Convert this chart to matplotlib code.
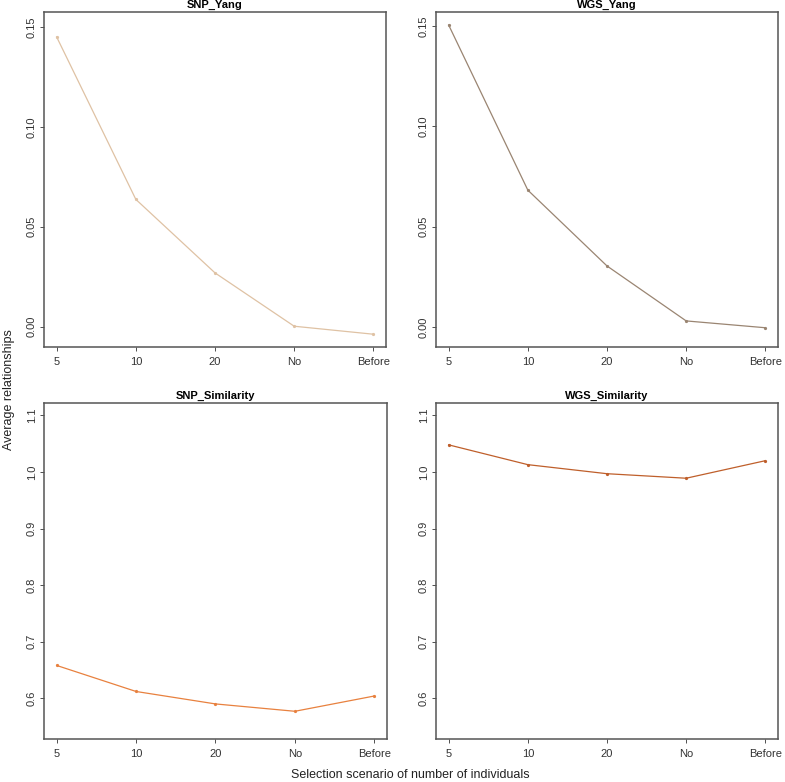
import matplotlib
matplotlib.use("Agg")
import matplotlib.pyplot as plt

plt.rcParams["font.family"] = ["Liberation Sans", "DejaVu Sans"]

# Data
SCENARIOS = ["5", "10", "20", "No", "Before"]
SNP_YANG = [0.145, 0.0637, 0.0269, 0.0002, -0.0038]
WGS_YANG = [0.1505, 0.0682, 0.0304, 0.0030, -0.0004]
SNP_SIMILARITY = [0.658, 0.612, 0.590, 0.577, 0.604]
WGS_SIMILARITY = [1.048, 1.013, 0.997, 0.989, 1.020]

PANELS = [
    ("SNP_Yang", SNP_YANG, "#dfc2a4", [0.00, 0.05, 0.10, 0.15], (-0.0102, 0.1575),
     ["0.00", "0.05", "0.10", "0.15"]),
    ("WGS_Yang", WGS_YANG, "#9a8572", [0.00, 0.05, 0.10, 0.15], (-0.0100, 0.1570),
     ["0.00", "0.05", "0.10", "0.15"]),
    ("SNP_Similarity", SNP_SIMILARITY, "#e8813f", [0.6, 0.7, 0.8, 0.9, 1.0, 1.1], (0.528, 1.122),
     ["0.6", "0.7", "0.8", "0.9", "1.0", "1.1"]),
    ("WGS_Similarity", WGS_SIMILARITY, "#bf5f2b", [0.6, 0.7, 0.8, 0.9, 1.0, 1.1], (0.528, 1.122),
     ["0.6", "0.7", "0.8", "0.9", "1.0", "1.1"]),
]

W, H = 785, 782
# panel boxes in pixels: left, top, right, bottom
BOXES = [(44, 12, 386, 347), (436, 12, 778, 347), (44, 403, 387, 739), (436, 403, 778, 739)]

fig = plt.figure(figsize=(W / 100, H / 100), dpi=100)

xs = list(range(1, len(SCENARIOS) + 1))
for (title, vals, color, yticks, ylim, ylabels), (l, t, r, b) in zip(PANELS, BOXES):
    ax = fig.add_axes([l / W, 1 - b / H, (r - l) / W, (b - t) / H])
    ax.plot(xs, vals, color=color, linewidth=0.9, marker="o", markersize=1.3,
            markerfacecolor=color, markeredgecolor=color)
    ax.set_xlim(0.84, 5.16)
    ax.set_ylim(*ylim)
    ax.set_xticks(xs)
    ax.set_xticklabels(SCENARIOS)
    ax.set_yticks(yticks)
    ax.set_yticklabels(ylabels, rotation=90, va="center")
    ax.tick_params(axis="both", direction="out", length=3, width=0.6,
                   labelsize=8, colors="#333333")
    ax.tick_params(axis="y", pad=2)
    ax.tick_params(axis="x", pad=4)
    for s in ax.spines.values():
        s.set_color("#555555")
        s.set_linewidth(1.1)
    ax.set_title(title, fontsize=8, fontweight="bold", pad=3)

fig.text(9 / W, 1 - 390 / H, "Average relationships", rotation=90,
         ha="center", va="center", fontsize=9, color="#222222")
fig.text(410 / W, 1 - 775 / H, "Selection scenario of number of individuals",
         ha="center", va="center", fontsize=9, color="#222222")

fig.savefig("out.png", dpi=100)
